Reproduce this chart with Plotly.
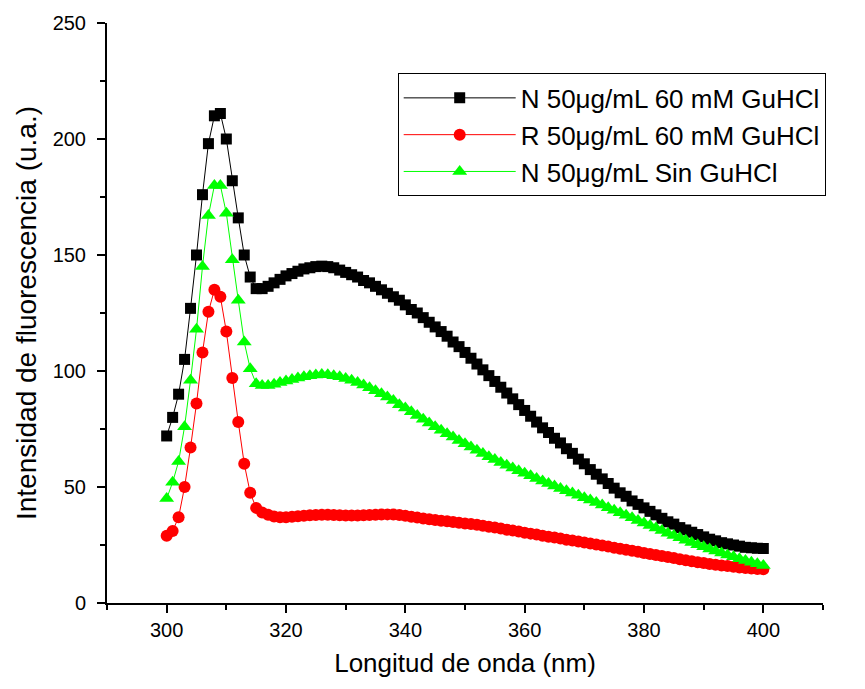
import plotly.graph_objects as go

wavelength = list(range(300, 401))

n_60mm = [72, 80, 90, 105, 127, 150, 176, 198, 210, 211,
          200, 182, 166, 150, 140.5, 135.5, 135.5, 136.5, 138, 139.5,
          141, 142, 143, 144, 144.5, 145, 145.2, 145, 144.5, 143.5,
          142.5, 141.5, 140.5, 139, 138, 136.5, 135, 133.5, 132, 130.5,
          128.5, 126.5, 125, 123, 121, 119, 117, 115, 112.5, 110.5,
          108, 105.5, 103, 100.5, 98, 95.5, 93, 90.5, 88, 85.5,
          83, 80.5, 78, 75.5, 73.5, 71, 69, 66.5, 64.5, 62,
          60, 57.5, 55.5, 53.5, 51.5, 49.5, 47.5, 46, 44, 42.5,
          41, 39.5, 38, 36.5, 35, 34, 32.5, 31.5, 30.5, 29.5,
          28.5, 27.5, 26.8, 26, 25.5, 25, 24.5, 24, 23.8, 23.6,
          23.5]

r_60mm = [29, 31, 37, 50, 67, 86, 108, 125.5, 135, 132,
          117, 97, 78, 60, 47.5, 41, 39, 38, 37.3, 37,
          37, 37.2, 37.4, 37.6, 37.8, 37.9, 38, 38, 37.9, 37.8,
          37.7, 37.7, 37.7, 37.8, 37.9, 38, 38.1, 38.2, 38.1, 37.9,
          37.6, 37.2, 36.8, 36.4, 36.1, 35.8, 35.5, 35.2, 34.9, 34.6,
          34.3, 34, 33.7, 33.3, 32.9, 32.5, 32.1, 31.6, 31.2, 30.8,
          30.3, 29.9, 29.5, 29.0, 28.6, 28.2, 27.8, 27.3, 26.9, 26.5,
          26.1, 25.6, 25.2, 24.75, 24.3, 23.85, 23.4, 22.95, 22.5, 22.05,
          21.6, 21.15, 20.7, 20.25, 19.8, 19.35, 18.9, 18.45, 18.0, 17.6,
          17.2, 16.85, 16.5, 16.2, 15.9, 15.6, 15.35, 15.1, 14.9, 14.7,
          14.5]

n_sin = [45, 52, 61, 76, 96, 118, 145, 167, 180, 180,
         168, 148, 130.5, 112.5, 101, 94.5, 93.8, 93.8, 94.3, 95,
         95.7, 96.3, 97, 97.5, 98, 98.3, 98.5, 98.4, 98, 97.5,
         96.8, 96, 95, 94, 92.8, 91.5, 90.2, 88.8, 87.3, 85.5,
         84, 82.4, 80.8, 79.2, 77.6, 76, 74.5, 73, 71.5, 70,
         68.6, 67.2, 65.8, 64.4, 63, 61.8, 60.6, 59.4, 58.2, 57,
         55.9, 54.8, 53.7, 52.6, 51.5, 50.4, 49.4, 48.4, 47.4, 46.4,
         45.4, 44.4, 43.3, 42.2, 41.1, 40, 38.9, 37.8, 36.7, 35.6,
         34.5, 33.4, 32.3, 31.2, 30.1, 29.1, 28.1, 27.1, 26.1, 25.1,
         24.2, 23.3, 22.4, 21.5, 20.7, 19.9, 19.1, 18.3, 17.6, 16.9,
         16.2]

names = ["N 50\u03bcg/mL 60 mM GuHCl", "R 50\u03bcg/mL 60 mM GuHCl", "N 50\u03bcg/mL Sin GuHCl"]
series = [n_60mm, r_60mm, n_sin]
colors = ["#000000", "#ff0000", "#00ff00"]
symbols = ["square", "circle", "triangle-up"]
sizes = [11, 12, 13]

FONT = "Arial, 'Liberation Sans', sans-serif"

fig = go.Figure()
for nm, ys, c, s, sz in zip(names, series, colors, symbols, sizes):
    fig.add_trace(go.Scatter(
        x=wavelength, y=ys, name=nm, mode="lines+markers",
        line=dict(color=c, width=1),
        marker=dict(color=c, symbol=s, size=sz, line=dict(width=0)),
    ))

fig.update_layout(
    width=865, height=689,
    margin=dict(l=107, r=42, t=19, b=86),
    paper_bgcolor="white", plot_bgcolor="white",
    font=dict(family=FONT, color="black", size=20),
    showlegend=True,
    legend=dict(
        x=0.406, y=0.913, xanchor="left", yanchor="top",
        bordercolor="black", borderwidth=1, bgcolor="white",
        font=dict(family=FONT, size=26, color="black"),
        itemwidth=112, tracegroupgap=0,
    ),
    xaxis=dict(
        range=[290, 410], tickvals=[300, 320, 340, 360, 380, 400],
        showline=True, linecolor="black", linewidth=2,
        ticks="outside", ticklen=8, tickwidth=2, tickcolor="black",
        minor=dict(dtick=10, tick0=290, ticks="outside", ticklen=5, tickwidth=2, tickcolor="black"),
        showgrid=False, zeroline=False,
        tickfont=dict(size=20),
        title=dict(text="Longitud de onda (nm)", font=dict(size=26), standoff=14),
    ),
    yaxis=dict(
        range=[0, 250], tickvals=[0, 50, 100, 150, 200, 250],
        showline=True, linecolor="black", linewidth=2,
        ticks="outside", ticklen=8, tickwidth=2, tickcolor="black",
        ticklabelstandoff=7,
        minor=dict(dtick=25, tick0=0, ticks="outside", ticklen=5, tickwidth=2, tickcolor="black"),
        showgrid=False, zeroline=False,
        tickfont=dict(size=20),
        title=dict(text="Intensidad de fluorescencia (u.a.)", font=dict(size=28), standoff=8),
    ),
)

fig.write_html("out.html")
